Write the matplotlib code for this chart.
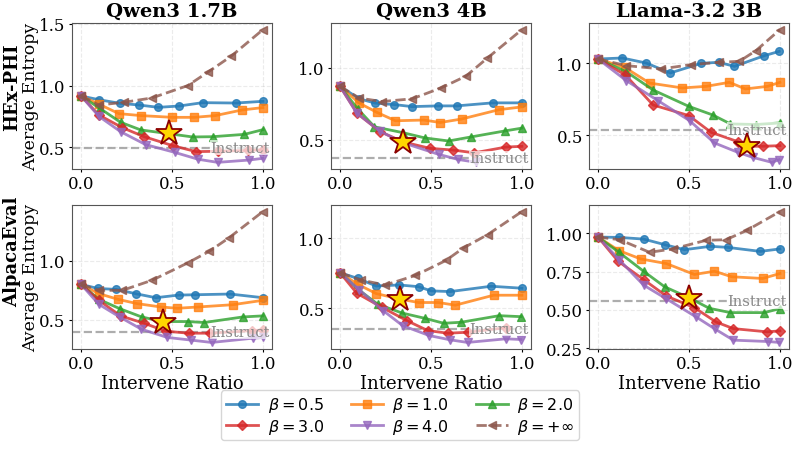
import matplotlib
matplotlib.use("Agg")
import matplotlib.pyplot as plt
from matplotlib.ticker import FormatStrFormatter

models = ["Qwen3 1.7B", "Qwen3 4B", "Llama-3.2 3B"]
datasets = ["HEx-PHI", "AlpacaEval"]
beta_labels = [r"$\beta=0.5$", r"$\beta=1.0$", r"$\beta=2.0$",
               r"$\beta=3.0$", r"$\beta=4.0$", r"$\beta=+\infty$"]

# ---------- HEx-PHI, Qwen3 1.7B ----------
p00_b05_x = [0, 0.098, 0.212, 0.319, 0.425, 0.54, 0.668, 0.853, 1.0]
p00_b05_y = [0.916, 0.886, 0.857, 0.843, 0.824, 0.835, 0.862, 0.859, 0.873]
p00_b10_x = [0, 0.098, 0.208, 0.331, 0.502, 0.622, 0.738, 0.886, 1.0]
p00_b10_y = [0.916, 0.85, 0.773, 0.757, 0.743, 0.743, 0.757, 0.803, 0.822]
p00_b20_x = [0, 0.103, 0.217, 0.328, 0.494, 0.613, 0.723, 0.898, 1.0]
p00_b20_y = [0.916, 0.816, 0.703, 0.641, 0.608, 0.584, 0.586, 0.605, 0.643]
p00_b30_x = [0, 0.098, 0.227, 0.347, 0.503, 0.632, 0.755, 0.92, 1.0]
p00_b30_y = [0.916, 0.762, 0.659, 0.586, 0.514, 0.465, 0.468, 0.475, 0.48]
p00_b40_x = [0, 0.098, 0.217, 0.355, 0.515, 0.644, 0.751, 0.926, 1.0]
p00_b40_y = [0.916, 0.751, 0.627, 0.522, 0.459, 0.403, 0.378, 0.397, 0.411]
p00_inf_x = [0, 0.098, 0.236, 0.389, 0.586, 0.696, 0.825, 1.0]
p00_inf_y = [0.916, 0.843, 0.865, 0.9, 1.0, 1.108, 1.238, 1.454]
p00_instruct = 0.497
p00_star = (0.485, 0.613)

# ---------- HEx-PHI, Qwen3 4B ----------
p01_b05_x = [0, 0.106, 0.194, 0.299, 0.396, 0.537, 0.641, 0.839, 1.0]
p01_b05_y = [0.871, 0.785, 0.755, 0.745, 0.731, 0.736, 0.736, 0.757, 0.757]
p01_b10_x = [0, 0.106, 0.201, 0.304, 0.46, 0.551, 0.668, 0.875, 1.0]
p01_b10_y = [0.871, 0.755, 0.692, 0.633, 0.638, 0.621, 0.645, 0.71, 0.729]
p01_b20_x = [0, 0.097, 0.189, 0.344, 0.467, 0.597, 0.72, 0.908, 1.0]
p01_b20_y = [0.871, 0.715, 0.591, 0.551, 0.514, 0.493, 0.521, 0.563, 0.582]
p01_b30_x = [0, 0.093, 0.22, 0.348, 0.495, 0.623, 0.738, 0.912, 1.0]
p01_b30_y = [0.871, 0.685, 0.558, 0.486, 0.442, 0.43, 0.411, 0.451, 0.456]
p01_b40_x = [0, 0.093, 0.22, 0.348, 0.543, 0.65, 0.75]
p01_b40_y = [0.871, 0.685, 0.56, 0.48, 0.4, 0.365, 0.345]
p01_inf_x = [0, 0.106, 0.231, 0.396, 0.555, 0.692, 0.808, 1.0]
p01_inf_y = [0.871, 0.79, 0.766, 0.785, 0.86, 0.942, 1.065, 1.264]
p01_instruct = 0.374
p01_star = (0.348, 0.486)

# ---------- HEx-PHI, Llama-3.2 3B ----------
p02_b05_x = [0, 0.133, 0.265, 0.397, 0.567, 0.664, 0.75, 0.914, 0.996]
p02_b05_y = [1.03, 1.037, 1.002, 0.933, 1.0, 1.007, 0.979, 1.053, 1.083]
p02_b10_x = [0, 0.146, 0.283, 0.463, 0.594, 0.722, 0.81, 0.932, 1.0]
p02_b10_y = [1.03, 0.972, 0.863, 0.829, 0.84, 0.868, 0.822, 0.84, 0.868]
p02_b20_x = [0, 0.155, 0.302, 0.499, 0.631, 0.728, 0.87, 1.0]
p02_b20_y = [1.03, 0.942, 0.815, 0.701, 0.641, 0.579, 0.575, 0.586]
p02_b30_x = [0, 0.15, 0.302, 0.499, 0.621, 0.768, 0.814, 0.905, 1.0]
p02_b30_y = [1.03, 0.919, 0.711, 0.637, 0.521, 0.456, 0.424, 0.424, 0.428]
p02_b40_x = [0, 0.155, 0.329, 0.503, 0.64, 0.768, 0.85, 0.956, 0.996]
p02_b40_y = [1.03, 0.88, 0.741, 0.602, 0.447, 0.382, 0.347, 0.312, 0.331]
p02_inf_x = [0, 0.155, 0.347, 0.512, 0.667, 0.777, 0.868, 1.0]
p02_inf_y = [1.03, 0.984, 0.961, 0.991, 1.007, 1.014, 1.088, 1.234]
p02_instruct = 0.539
p02_star = (0.817, 0.424)

# ---------- AlpacaEval, Qwen3 1.7B ----------
p10_b05_x = [0, 0.092, 0.193, 0.3, 0.411, 0.536, 0.628, 0.82, 1.0]
p10_b05_y = [0.799, 0.765, 0.757, 0.721, 0.687, 0.709, 0.712, 0.718, 0.687]
p10_b10_x = [0, 0.098, 0.204, 0.309, 0.438, 0.53, 0.645, 0.834, 1.0]
p10_b10_y = [0.799, 0.721, 0.673, 0.637, 0.609, 0.598, 0.609, 0.628, 0.665]
p10_b20_x = [0, 0.098, 0.212, 0.333, 0.448, 0.586, 0.678, 0.89, 1.0]
p10_b20_y = [0.799, 0.673, 0.595, 0.525, 0.486, 0.486, 0.478, 0.525, 0.534]
p10_b30_x = [0, 0.098, 0.217, 0.346, 0.466, 0.591, 0.709, 0.94, 1.0]
p10_b30_y = [0.799, 0.665, 0.534, 0.472, 0.405, 0.388, 0.388, 0.41, 0.415]
p10_b40_x = [0, 0.098, 0.212, 0.331, 0.475, 0.604, 0.718, 0.945, 1.0]
p10_b40_y = [0.799, 0.631, 0.525, 0.422, 0.352, 0.33, 0.31, 0.346, 0.352]
p10_inf_x = [0, 0.098, 0.227, 0.392, 0.586, 0.705, 0.812, 1.0]
p10_inf_y = [0.799, 0.749, 0.749, 0.835, 0.98, 1.078, 1.19, 1.413]
p10_instruct = 0.402
p10_star = (0.448, 0.486)

# ---------- AlpacaEval, Qwen3 4B ----------
p11_b05_x = [0, 0.097, 0.198, 0.326, 0.432, 0.5, 0.606, 0.83, 1.0]
p11_b05_y = [0.752, 0.712, 0.658, 0.665, 0.653, 0.623, 0.618, 0.656, 0.642]
p11_b10_x = [0, 0.097, 0.198, 0.33, 0.432, 0.54, 0.634, 0.844, 1.0]
p11_b10_y = [0.752, 0.67, 0.604, 0.564, 0.54, 0.54, 0.521, 0.592, 0.592]
p11_b20_x = [0, 0.106, 0.207, 0.341, 0.467, 0.57, 0.665, 0.875, 0.995]
p11_b20_y = [0.752, 0.627, 0.528, 0.465, 0.427, 0.392, 0.399, 0.446, 0.439]
p11_b30_x = [0, 0.092, 0.231, 0.368, 0.482, 0.592, 0.705, 0.91]
p11_b30_y = [0.752, 0.606, 0.505, 0.41, 0.34, 0.321, 0.328, 0.36]
p11_b40_x = [0, 0.106, 0.238, 0.344, 0.491, 0.604, 0.701, 0.912, 0.995]
p11_b40_y = [0.752, 0.63, 0.481, 0.375, 0.304, 0.274, 0.255, 0.281, 0.276]
p11_inf_x = [0, 0.115, 0.249, 0.414, 0.582, 0.678, 0.811, 1.0]
p11_inf_y = [0.752, 0.7, 0.665, 0.733, 0.84, 0.929, 1.024, 1.189]
p11_instruct = 0.351
p11_star = (0.33, 0.564)

# ---------- AlpacaEval, Llama-3.2 3B ----------
p12_b05_x = [0, 0.115, 0.25, 0.366, 0.475, 0.618, 0.713, 0.892, 1.0]
p12_b05_y = [0.974, 0.972, 0.961, 0.925, 0.892, 0.914, 0.907, 0.881, 0.897]
p12_b10_x = [0, 0.115, 0.234, 0.375, 0.53, 0.64, 0.735, 0.905, 1.0]
p12_b10_y = [0.974, 0.886, 0.832, 0.802, 0.731, 0.752, 0.716, 0.705, 0.737]
p12_b20_x = [0, 0.115, 0.25, 0.366, 0.499, 0.612, 0.728, 0.914, 1.0]
p12_b20_y = [0.974, 0.875, 0.752, 0.651, 0.58, 0.511, 0.483, 0.483, 0.509]
p12_b30_x = [0, 0.11, 0.25, 0.375, 0.53, 0.649, 0.744, 0.929, 1.0]
p12_b30_y = [0.974, 0.817, 0.698, 0.591, 0.515, 0.422, 0.379, 0.358, 0.364]
p12_b40_x = [0, 0.115, 0.25, 0.375, 0.539, 0.645, 0.744, 0.936, 0.996]
p12_b40_y = [0.974, 0.828, 0.662, 0.573, 0.455, 0.375, 0.304, 0.295, 0.289]
p12_inf_x = [0, 0.119, 0.283, 0.411, 0.594, 0.704, 0.817, 1.0]
p12_inf_y = [0.974, 0.957, 0.875, 0.897, 0.953, 0.957, 1.017, 1.14]
p12_instruct = 0.558
p12_star = (0.499, 0.58)

panels = [
    [
        ([(p00_b05_x, p00_b05_y), (p00_b10_x, p00_b10_y), (p00_b20_x, p00_b20_y),
          (p00_b30_x, p00_b30_y), (p00_b40_x, p00_b40_y), (p00_inf_x, p00_inf_y)], p00_instruct, p00_star, [0.5, 1.0, 1.5], "%.1f"),
        ([(p01_b05_x, p01_b05_y), (p01_b10_x, p01_b10_y), (p01_b20_x, p01_b20_y),
          (p01_b30_x, p01_b30_y), (p01_b40_x, p01_b40_y), (p01_inf_x, p01_inf_y)], p01_instruct, p01_star, [0.5, 1.0], "%.1f"),
        ([(p02_b05_x, p02_b05_y), (p02_b10_x, p02_b10_y), (p02_b20_x, p02_b20_y),
          (p02_b30_x, p02_b30_y), (p02_b40_x, p02_b40_y), (p02_inf_x, p02_inf_y)], p02_instruct, p02_star, [0.5, 1.0], "%.1f"),
    ],
    [
        ([(p10_b05_x, p10_b05_y), (p10_b10_x, p10_b10_y), (p10_b20_x, p10_b20_y),
          (p10_b30_x, p10_b30_y), (p10_b40_x, p10_b40_y), (p10_inf_x, p10_inf_y)], p10_instruct, p10_star, [0.5, 1.0], "%.1f"),
        ([(p11_b05_x, p11_b05_y), (p11_b10_x, p11_b10_y), (p11_b20_x, p11_b20_y),
          (p11_b30_x, p11_b30_y), (p11_b40_x, p11_b40_y), (p11_inf_x, p11_inf_y)], p11_instruct, p11_star, [0.5, 1.0], "%.1f"),
        ([(p12_b05_x, p12_b05_y), (p12_b10_x, p12_b10_y), (p12_b20_x, p12_b20_y),
          (p12_b30_x, p12_b30_y), (p12_b40_x, p12_b40_y), (p12_inf_x, p12_inf_y)], p12_instruct, p12_star, [0.25, 0.5, 0.75, 1.0], "%.2f"),
    ],
]

colors = ["#1f77b4", "#ff7f0e", "#2ca02c", "#d62728", "#9467bd", "#8c564b"]
markers = ["o", "s", "^", "D", "v", "<"]
styles = ["-", "-", "-", "-", "-", "--"]

plt.rcParams["font.family"] = "DejaVu Serif"
plt.rcParams["mathtext.fontset"] = "dejavusans"

fig = plt.figure(figsize=(7.97, 4.52), dpi=100)
W, H = 797.0, 452.0
lefts = [72, 331, 589]
tops = [24, 206]
bottoms = [170, 350]

handles = []
for r in range(2):
    for c in range(3):
        series, instr, star, yt, fmt = panels[r][c]
        ax = fig.add_axes([lefts[c] / W, 1 - bottoms[r] / H, 200 / W, (bottoms[r] - tops[r]) / H])
        for k, (xs, ys) in enumerate(series):
            h, = ax.plot(xs, ys, color=colors[k], marker=markers[k], linestyle=styles[k],
                         lw=2, ms=5.5, alpha=0.8, label=beta_labels[k], zorder=3)
            if r == 0 and c == 0:
                handles.append(h)
        ax.axhline(instr, color="#999999", ls="--", lw=1.6, alpha=0.8, zorder=2)
        ax.text(0.99, instr, "Instruct", transform=ax.get_yaxis_transform(),
                ha="right", va="center", fontsize=10.5, color="#888888", zorder=4,
                bbox=dict(facecolor="white", edgecolor="none", alpha=0.7, pad=0.3))
        ax.plot([star[0]], [star[1]], marker="*", ms=19, mfc="gold", mec="darkred",
                mew=1.3, ls="none", zorder=6)
        ax.set_xticks([0.0, 0.5, 1.0])
        ax.set_yticks(yt)
        ax.yaxis.set_major_formatter(FormatStrFormatter(fmt))
        ax.tick_params(labelsize=12, length=2.5, pad=2)
        ax.grid(True, ls="--", alpha=0.25)
        for s in ax.spines.values():
            s.set_color("#555555")
        if r == 0:
            ax.set_title(models[c], fontsize=14, fontweight="bold", pad=5)
        else:
            ax.set_xlabel("Intervene Ratio", fontsize=13, labelpad=1)

for r in range(2):
    yc = 1 - (tops[r] + bottoms[r]) / 2 / H
    fig.text(31 / W, yc, "Average Entropy", rotation=90, fontsize=12.5,
             ha="center", va="center")
fig.text(12 / W, 1 - 87 / H, datasets[0], rotation=90, fontsize=13, fontweight="bold",
         ha="center", va="center")
fig.text(12 / W, 1 - 252 / H, datasets[1], rotation=90, fontsize=13, fontweight="bold",
         ha="center", va="center")

# legend filled row-wise: reorder for matplotlib's column-major layout
order = [0, 3, 1, 4, 2, 5]
fig.legend(handles=[handles[i] for i in order], loc="lower center",
           bbox_to_anchor=(0.502, 0.006), ncol=3,
           prop={"family": "DejaVu Sans", "size": 11.5}, handlelength=2.0, handletextpad=0.6,
           columnspacing=1.7, labelspacing=0.15, borderpad=0.3)

fig.savefig("out.png", dpi=100)
